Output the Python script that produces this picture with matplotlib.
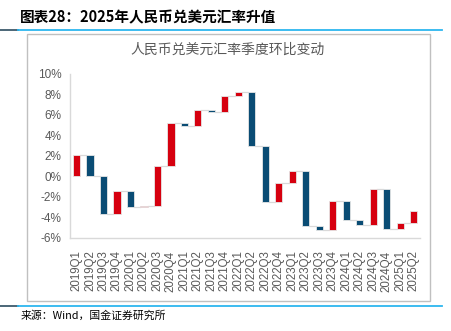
import matplotlib
matplotlib.use("Agg")
import matplotlib.pyplot as plt
from matplotlib.lines import Line2D
from matplotlib.patches import Rectangle
import numpy as np

plt.rcParams['font.family'] = ['Liberation Sans', 'Noto Sans CJK SC', 'DejaVu Sans']
cjk = ['Noto Sans CJK SC', 'DejaVu Sans']

# cumulative quarter-on-quarter change of CNY vs USD since start of 2019, %
quarters = ['2019Q1', '2019Q2', '2019Q3', '2019Q4', '2020Q1', '2020Q2', '2020Q3',
            '2020Q4', '2021Q1', '2021Q2', '2021Q3', '2021Q4', '2022Q1', '2022Q2',
            '2022Q3', '2022Q4', '2023Q1', '2023Q2', '2023Q3', '2023Q4', '2024Q1',
            '2024Q2', '2024Q3', '2024Q4', '2025Q1', '2025Q2']
level = [2.1, 0.0, -3.7, -1.4, -3.0, -2.85, 1.0, 5.2, 4.95, 6.45, 6.3, 7.85, 8.2,
         3.0, -2.5, -0.6, 0.5, -4.8, -5.25, -2.4, -4.2, -4.75, -1.2, -5.15, -4.55, -3.4]
yticks = [-6, -4, -2, 0, 2, 4, 6, 8, 10]

RED = '#d6000f'
BLUE = '#0a4c74'

end = np.array(level)
start = np.concatenate([[0.0], end[:-1]])
change = end - start
x = np.arange(len(quarters))

fig = plt.figure(figsize=(4.51, 3.31), dpi=100)
ax = fig.add_axes([0.1552, 0.281, 0.776, 0.4955])

colors = [RED if c >= 0 else BLUE for c in change]
w = 0.54
ax.bar(x, change, bottom=start, width=w, color=colors,
       edgecolor='#e6e6e6', linewidth=0.6, zorder=3)

# connector lines between consecutive bars
for i in range(len(x) - 1):
    ax.plot([x[i] + w / 2, x[i + 1] - w / 2], [end[i], end[i]],
            color='#d9d9d9', lw=0.9, zorder=2)

ax.set_xlim(-0.48, 25.47)
ax.set_ylim(-6, 10)
ax.set_yticks(yticks)
ax.set_yticklabels([f'{v}%' for v in yticks], fontsize=8.5, color='#595959')
ax.set_xticks(x)
ax.set_xticklabels(quarters, rotation=90, fontsize=8.3, color='#595959')
ax.tick_params(axis='both', length=0)
ax.tick_params(axis='y', pad=6)
ax.tick_params(axis='x', pad=9)
for s in ['top', 'right']:
    ax.spines[s].set_visible(False)
for s in ['left', 'bottom']:
    ax.spines[s].set_color('#d9d9d9')
    ax.spines[s].set_linewidth(1.0)

W, H = 451, 331


def fx(px):
    return px / W


def fy(py):
    return 1 - py / H


# frame around the chart
fig.patches.append(Rectangle((fx(27), fy(301)), fx(430) - fx(27), fy(34) - fy(301),
                             transform=fig.transFigure, fill=False,
                             edgecolor='#c0c0c0', lw=1.0))

# header and footer rules
for yy in (30, 306):
    fig.lines.append(Line2D([0, fx(18)], [fy(yy), fy(yy)], transform=fig.transFigure,
                            color='#3d5a6c', lw=1.3))
    fig.lines.append(Line2D([fx(18), fx(442)], [fy(yy), fy(yy)],
                            transform=fig.transFigure, color='#2db6ef', lw=1.3))

fig.text(fx(20), fy(17), '图表28：2025年人民币兑美元汇率升值', family=cjk,
         fontsize=10.5, fontweight='bold', style='italic', va='center', ha='left')
fig.text(fx(228), fy(50), '人民币兑美元汇率季度环比变动', family=cjk,
         fontsize=10, fontweight='light', color='#595959', va='center', ha='center')
fig.text(fx(21), fy(316), '来源：Wind，国金证券研究所', family=cjk,
         fontsize=7.8, fontweight='light', va='center', ha='left')

fig.savefig('out.png', dpi=100)
